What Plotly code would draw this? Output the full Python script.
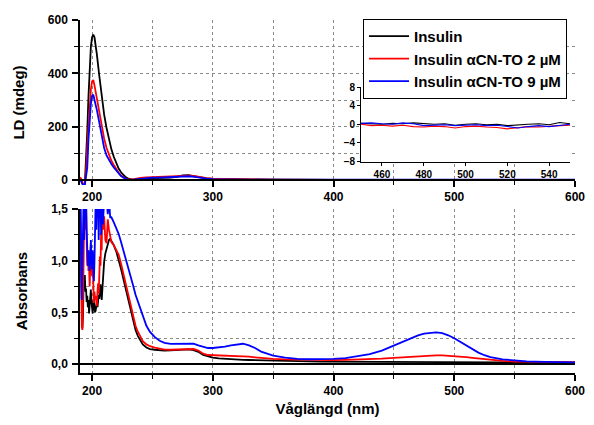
import plotly.graph_objects as go

# ---------------- data ----------------
series_names = ["Insulin", "Insulin \u03b1CN-TO 2 \u00b5M", "Insulin \u03b1CN-TO 9 \u00b5M"]
series_colors = ["#000000", "#ff0000", "#0000ff"]

# LD spectrum (mdeg)
wl_ld = [190, 191, 192, 193, 194, 195, 196, 197, 198, 199, 200, 201, 202, 203, 204, 206, 208, 210,
         212, 214, 216, 218, 220, 222, 224, 226, 228, 230, 232, 234, 236, 240, 245, 250, 255, 260,
         265, 270, 275, 280, 285, 290, 295, 300, 310, 320, 330, 350, 400, 450, 500, 550, 600]
ld_insulin = [8, 2, -12, -18, -15, 60, 180, 310, 420, 500, 535, 545, 535, 505, 470, 390, 310, 245,
              195, 150, 115, 87, 62, 43, 29, 18, 10, 5, 2, 0, 1, 4, 6, 7, 7, 8,
              9, 12, 17, 18, 15, 10, 6, 4, 3, 2, 1, 1, 0, 0, 0, 0, 0]
ld_2uM = [10, 3, -10, -16, -14, 30, 120, 200, 280, 340, 370, 375, 355, 330, 305, 250, 197, 155,
          120, 93, 72, 56, 40, 27, 17, 10, 5, 2, 1, 2, 4, 8, 10, 11, 11, 12,
          12, 13, 15, 16, 14, 10, 7, 5, 4, 3, 2, 1, 0.5, 0.5, 0.5, 0.5, 0.5]
ld_9uM = [0, -5, -16, -20, -18, 10, 45, 150, 220, 285, 315, 320, 300, 282, 262, 215, 165, 120,
          92, 74, 60, 47, 35, 24, 15, 9, 4, 1, 0, 1, 3, 6, 8, 9, 9, 10,
          10, 11, 13, 14, 12, 8, 5, 3, 2, 1, 1, 1, 1, 1, 1, 1, 1]

# LD inset (450-550 nm)
wl_inset = [450, 455, 460, 465, 470, 475, 480, 485, 490, 495, 500, 505, 510, 515, 520, 525, 530,
            535, 540, 545, 550]
inset_insulin = [0.2, 0.1, 0.0, 0.2, 0.1, 0.3, 0.2, 0.0, 0.1, -0.2, 0.0, 0.1, -0.1, 0.0, -0.3, -0.1,
                 0.0, 0.1, -0.1, 0.4, 0.1]
inset_2uM = [0.0, -0.3, -0.2, -0.4, -0.2, -0.5, -0.6, -0.4, -0.5, -0.8, -0.5, -0.4, -0.6, -0.7, -1.0,
             -0.7, -0.5, -0.6, -0.4, -0.3, -0.2]
inset_9uM = [0.2, 0.3, 0.1, 0.0, 0.3, 0.1, -0.3, -0.2, -0.1, -0.3, -0.2, -0.1, -0.3, -0.2, -0.5,
             -0.8, -0.5, -0.3, -0.5, -0.2, 0.0]

# Absorbance spectrum
wl_abs = [190, 190.5, 191, 191.5, 192, 192.5, 193, 193.5, 194, 194.5, 195, 195.5, 196, 196.5, 197,
          197.5, 198, 198.5, 199, 199.5, 200, 200.5, 201, 201.5, 202, 202.5, 203, 203.5, 204, 204.5,
          205, 205.5, 206, 206.5, 207, 207.5, 208, 208.5, 209, 209.5, 210,
          211, 212, 213, 214, 215, 216,
          218, 220, 222, 224, 226, 228, 230, 232, 234, 236, 238, 240, 242,
          245, 248, 252, 256, 260, 265, 270, 275, 280, 284, 288, 292, 296, 300,
          305, 310, 315, 320, 325, 330, 335, 340, 345, 350,
          360, 370, 380, 390, 400, 410, 420, 430, 440, 450, 460, 470,
          475, 480, 485, 490, 495, 500, 505, 510, 515, 520, 525, 530,
          540, 550, 560, 575, 600]
abs_insulin = [1.6, 1.3, 0.75, 0.42, 0.35, 0.48, 0.82, 0.74, 0.86, 0.7, 0.73, 0.6, 0.66, 0.55, 0.62,
               0.49, 0.56, 0.69, 0.72, 0.6, 0.53, 0.49, 0.58, 0.63, 0.55, 0.5, 0.52, 0.57, 0.6, 0.55,
               0.6, 0.67, 0.63, 0.72, 0.77, 0.7, 0.62, 0.72, 0.86, 0.94, 0.99,
               1.07, 1.12, 1.17, 1.2, 1.21, 1.19,
               1.15, 1.09, 1.01, 0.92, 0.82, 0.72, 0.61, 0.51, 0.41, 0.33, 0.27, 0.23, 0.19,
               0.16, 0.145, 0.138, 0.132, 0.13, 0.132, 0.136, 0.14, 0.142, 0.135, 0.118, 0.088, 0.072, 0.062,
               0.055, 0.05, 0.047, 0.044, 0.041, 0.039, 0.037, 0.035, 0.033, 0.031,
               0.029, 0.027, 0.025, 0.024, 0.023, 0.022, 0.022, 0.021, 0.021, 0.02, 0.02, 0.02,
               0.02, 0.02, 0.02, 0.02, 0.019, 0.019, 0.018, 0.018, 0.017, 0.017, 0.016, 0.016,
               0.015, 0.015, 0.014, 0.013, 0.012]
abs_2uM = [1.6, 1.1, 0.6, 0.36, 0.33, 0.6, 1.0, 1.6, 1.6, 1.3, 1.6, 1.2, 0.95, 1.1, 0.9,
           0.94, 0.75, 0.88, 1.15, 1.0, 0.85, 1.0, 0.8, 0.59, 0.7, 0.62, 0.66, 0.58, 0.56, 0.7,
           0.78, 0.68, 0.82, 1.04, 0.95, 1.27, 1.1, 1.6, 1.45, 1.3, 1.43,
           1.2, 1.17, 1.4, 1.3, 1.23, 1.18,
           1.15, 1.1, 1.06, 0.97, 0.87, 0.77, 0.66, 0.56, 0.46, 0.37, 0.31, 0.26, 0.22,
           0.19, 0.172, 0.158, 0.148, 0.14, 0.138, 0.14, 0.145, 0.15, 0.145, 0.13, 0.1, 0.087, 0.085,
           0.085, 0.084, 0.083, 0.08, 0.076, 0.071, 0.065, 0.058, 0.053, 0.05,
           0.044, 0.041, 0.039, 0.038, 0.038, 0.04, 0.043, 0.048, 0.053, 0.06, 0.068, 0.077,
           0.08, 0.083, 0.084, 0.083, 0.08, 0.076, 0.071, 0.066, 0.06, 0.054, 0.046, 0.04,
           0.03, 0.024, 0.021, 0.02, 0.019]
abs_9uM = [1.6, 1.6, 0.9, 0.62, 1.0, 1.6, 1.6, 1.2, 1.6, 1.4, 1.6, 1.3, 1.05, 0.95, 1.1,
           0.98, 0.9, 1.05, 1.2, 1.0, 0.92, 1.1, 0.95, 0.8, 1.0, 1.25, 1.6, 1.3, 1.6, 1.45,
           1.6, 1.2, 1.6, 1.5, 1.6, 1.25, 1.6, 1.6, 1.35, 1.6, 1.6,
           1.5, 1.6, 1.45, 1.6, 1.42, 1.42,
           1.37, 1.32, 1.26, 1.18, 1.1, 1.01, 0.92, 0.84, 0.76, 0.67, 0.6, 0.53, 0.46,
           0.37, 0.31, 0.26, 0.225, 0.205, 0.195, 0.195, 0.2, 0.2, 0.198, 0.18, 0.165, 0.155, 0.155,
           0.16, 0.168, 0.18, 0.19, 0.196, 0.18, 0.155, 0.12, 0.1, 0.082,
           0.062, 0.05, 0.046, 0.046, 0.05, 0.057, 0.073, 0.095, 0.13, 0.178, 0.23, 0.277,
           0.293, 0.302, 0.306, 0.298, 0.278, 0.25, 0.215, 0.178, 0.14, 0.11, 0.085, 0.067,
           0.045, 0.032, 0.026, 0.02, 0.016]

x_ticks = [200, 300, 400, 500, 600]
x_minor = [200, 250, 300, 350, 400, 450, 500, 550]
ld_ticks = [0, 200, 400, 600]
ld_minor = [100, 200, 300, 400, 500]
abs_ticks = [0, 0.5, 1.0, 1.5]
abs_ticktext = ["0,0", "0,5", "1,0", "1,5"]
abs_minor = [0.25, 0.5, 0.75, 1.0, 1.25]
inset_xticks = [460, 480, 500, 520, 540]
inset_yticks = [-8, -4, 0, 4, 8]

# ---------------- figure ----------------
FONT = "Liberation Sans, Arial, sans-serif"
fig = go.Figure()

ld_series = [ld_insulin, ld_2uM, ld_9uM]
abs_series = [abs_insulin, abs_2uM, abs_9uM]
inset_series = [inset_insulin, inset_2uM, inset_9uM]

for name, col, ys in zip(series_names, series_colors, ld_series):
    fig.add_trace(go.Scatter(x=wl_ld, y=ys, mode="lines", name=name,
                             line=dict(color=col, width=1.8), xaxis="x", yaxis="y"))
for name, col, ys in zip(series_names, series_colors, abs_series):
    fig.add_trace(go.Scatter(x=wl_abs, y=ys, mode="lines", name=name, showlegend=False,
                             line=dict(color=col, width=1.8), xaxis="x2", yaxis="y2"))
for name, col, ys in zip(series_names, series_colors, inset_series):
    fig.add_trace(go.Scatter(x=wl_inset, y=ys, mode="lines", name=name, showlegend=False,
                             line=dict(color=col, width=1.1), xaxis="x3", yaxis="y3"))

tickfont = dict(family=FONT, size=12, color="black", weight="bold")
titlefont = dict(family=FONT, size=15, color="black", weight="bold")
gridc = "#8a8a8a"

top_dom = [0.5326, 1.0]
ld_range = [-18.75, 600]
pos0 = top_dom[0] + (0 - ld_range[0]) / (ld_range[1] - ld_range[0]) * (top_dom[1] - top_dom[0])

common_x = dict(range=[190, 600], showline=True, linecolor="black", linewidth=1.5,
                ticks="outside", ticklen=6, tickwidth=1.5, tickcolor="black",
                tickvals=x_ticks, tickfont=tickfont, showgrid=False, zeroline=False,
                automargin=False,
                minor=dict(tickvals=x_minor, showgrid=True, gridcolor=gridc, griddash="dot",
                           gridwidth=1, ticks="outside", ticklen=4, tickcolor="black", tickwidth=1.2))

# the page adds an 8px body margin, so the figure is kept small enough to avoid scrolling
fig.update_layout(
    width=586, height=409,
    margin=dict(l=72, r=19, t=12, b=44, autoexpand=False),
    paper_bgcolor="white", plot_bgcolor="white",
    font=dict(family=FONT, color="black"),
    xaxis=dict(domain=[0, 1], anchor="free", position=pos0, **common_x),
    yaxis=dict(domain=top_dom, anchor="x", range=ld_range, showline=True, linecolor="black",
               linewidth=1.5, ticks="outside", ticklen=6, tickwidth=1.5, tickcolor="black",
               tickvals=ld_ticks, tickfont=tickfont, showgrid=False, zeroline=False,
               automargin=False, ticklabelstandoff=2,
               title=dict(text="LD (mdeg)", font=titlefont, standoff=20),
               minor=dict(tickvals=ld_minor, showgrid=True, gridcolor=gridc, griddash="dot",
                          gridwidth=1, ticks="outside", ticklen=4, tickcolor="black", tickwidth=1.2)),
    xaxis2=dict(domain=[0, 1], anchor="y2",
                title=dict(text="Våglängd (nm)", font=titlefont, standoff=9), **common_x),
    yaxis2=dict(domain=[0, 0.4646], anchor="x2", range=[-0.087, 1.5], showline=True,
                linecolor="black", linewidth=1.5, ticks="outside", ticklen=6, tickwidth=1.5,
                tickcolor="black", tickvals=abs_ticks, ticktext=abs_ticktext, tickfont=tickfont,
                showgrid=False, zeroline=True, zerolinecolor="black", zerolinewidth=1.5,
                automargin=False, ticklabelstandoff=2,
                title=dict(text="Absorbans", font=titlefont, standoff=20),
                minor=dict(tickvals=abs_minor, showgrid=True, gridcolor=gridc, griddash="dot",
                           gridwidth=1, ticks="outside", ticklen=4, tickcolor="black", tickwidth=1.2)),
    xaxis3=dict(domain=[0.5678, 0.99], anchor="y3", range=[450, 550], showline=True,
                linecolor="black", linewidth=1, ticks="outside", ticklen=3, tickcolor="black",
                tickvals=inset_xticks, showgrid=False, zeroline=False, automargin=False,
                tickfont=dict(family=FONT, size=10, color="black", weight="bold")),
    yaxis3=dict(domain=[0.5977, 0.8102], anchor="x3", range=[-8.2, 8.1], showline=True,
                linecolor="black", linewidth=1, ticks="outside", ticklen=3, tickcolor="black",
                tickvals=inset_yticks, showgrid=False, zeroline=False, automargin=False,
                tickfont=dict(family=FONT, size=10, color="black", weight="bold")),
    legend=dict(x=0.5718, y=1.003, xanchor="left", yanchor="top", bgcolor="white",
                bordercolor="black", borderwidth=1,
                font=dict(family=FONT, size=15, color="black", weight="bold"),
                tracegroupgap=0, itemwidth=40),
    showlegend=True,
)

fig.write_html("out.html")
